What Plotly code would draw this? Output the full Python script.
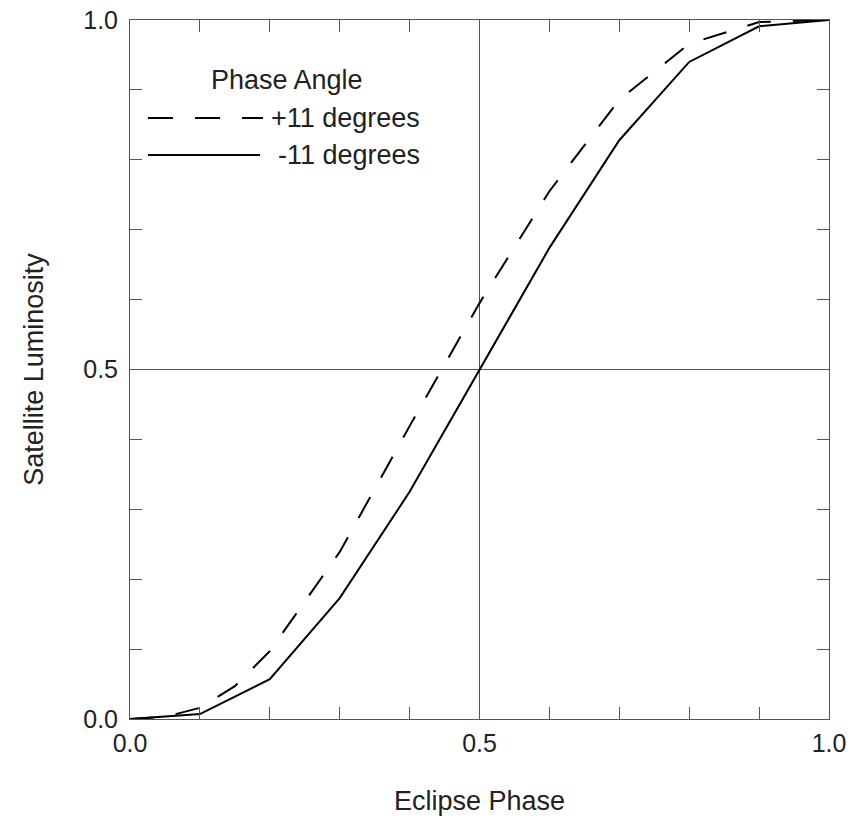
import plotly.graph_objects as go

# Data
phase_plus = [0.0, 0.05, 0.1, 0.15, 0.2, 0.3, 0.4, 0.5, 0.6, 0.7, 0.8, 0.9, 1.0]
lum_plus = [0.0, 0.003, 0.016, 0.047, 0.097, 0.239, 0.419, 0.595, 0.755, 0.886, 0.966, 0.997, 1.0]

phase_minus = [0.0, 0.05, 0.1, 0.2, 0.3, 0.4, 0.5, 0.6, 0.7, 0.8, 0.9, 1.0]
lum_minus = [0.0, 0.003, 0.007, 0.057, 0.173, 0.325, 0.5, 0.674, 0.828, 0.94, 0.991, 1.0]

legend_title = "Phase Angle"
labels = ["+11 degrees", "-11 degrees"]
tick_vals = [0.0, 0.5, 1.0]
tick_text = ["0.0", "0.5", "1.0"]

FONT = "Arial, Liberation Sans, sans-serif"
TXT = "#222222"
AX = "#555555"

fig = go.Figure()
fig.add_trace(go.Scatter(x=phase_plus, y=lum_plus, mode="lines", name=labels[0],
                         line=dict(color="black", width=2, dash="24px,22px"), showlegend=False))
fig.add_trace(go.Scatter(x=phase_minus, y=lum_minus, mode="lines", name=labels[1],
                         line=dict(color="black", width=2), showlegend=False))

L, T, W, H = 130, 20, 699, 699
def px(xp):
    return (xp - L) / W
def py(yp):
    return (T + H - yp) / H

# manual legend
fig.add_annotation(x=px(209), y=py(80), xref="paper", yref="paper", text=legend_title,
                   showarrow=False, xanchor="left", yanchor="middle",
                   font=dict(family=FONT, size=27, color=TXT))
fig.add_annotation(x=px(269), y=py(118), xref="paper", yref="paper", text=labels[0],
                   showarrow=False, xanchor="left", yanchor="middle",
                   font=dict(family=FONT, size=27, color=TXT))
fig.add_annotation(x=px(276), y=py(155), xref="paper", yref="paper", text=labels[1],
                   showarrow=False, xanchor="left", yanchor="middle",
                   font=dict(family=FONT, size=27, color=TXT))
fig.add_shape(type="line", xref="paper", yref="paper", x0=px(148), x1=px(263), y0=py(118), y1=py(118),
              line=dict(color="black", width=2, dash="25px,22px"))
fig.add_shape(type="line", xref="paper", yref="paper", x0=px(148), x1=px(260), y0=py(155), y1=py(155),
              line=dict(color="black", width=2))

axis_common = dict(
    range=[0, 1], tickvals=tick_vals, ticktext=tick_text,
    ticks="inside", ticklen=12, tickwidth=1, tickcolor=AX,
    showline=True, linecolor=AX, linewidth=1, mirror="ticks",
    showgrid=True, gridcolor=AX, gridwidth=1,
    zeroline=False, automargin=False,
    minor=dict(dtick=0.1, ticks="inside", ticklen=12, tickwidth=1, tickcolor=AX, showgrid=False),
    tickfont=dict(family=FONT, size=25, color=TXT),
)

fig.update_xaxes(**axis_common, ticklabelstandoff=2,
                 title=dict(text="Eclipse Phase", font=dict(family=FONT, size=27, color=TXT), standoff=36))
fig.update_yaxes(**axis_common, ticklabelstandoff=6,
                 title=dict(text="Satellite Luminosity", font=dict(family=FONT, size=27, color=TXT), standoff=31))

fig.update_layout(
    width=850, height=816,
    margin=dict(l=L, r=850 - L - W, t=T, b=816 - T - H, pad=0, autoexpand=False),
    plot_bgcolor="white", paper_bgcolor="white",
    font=dict(family=FONT, size=24, color=TXT),
)

fig.write_html("out.html")
